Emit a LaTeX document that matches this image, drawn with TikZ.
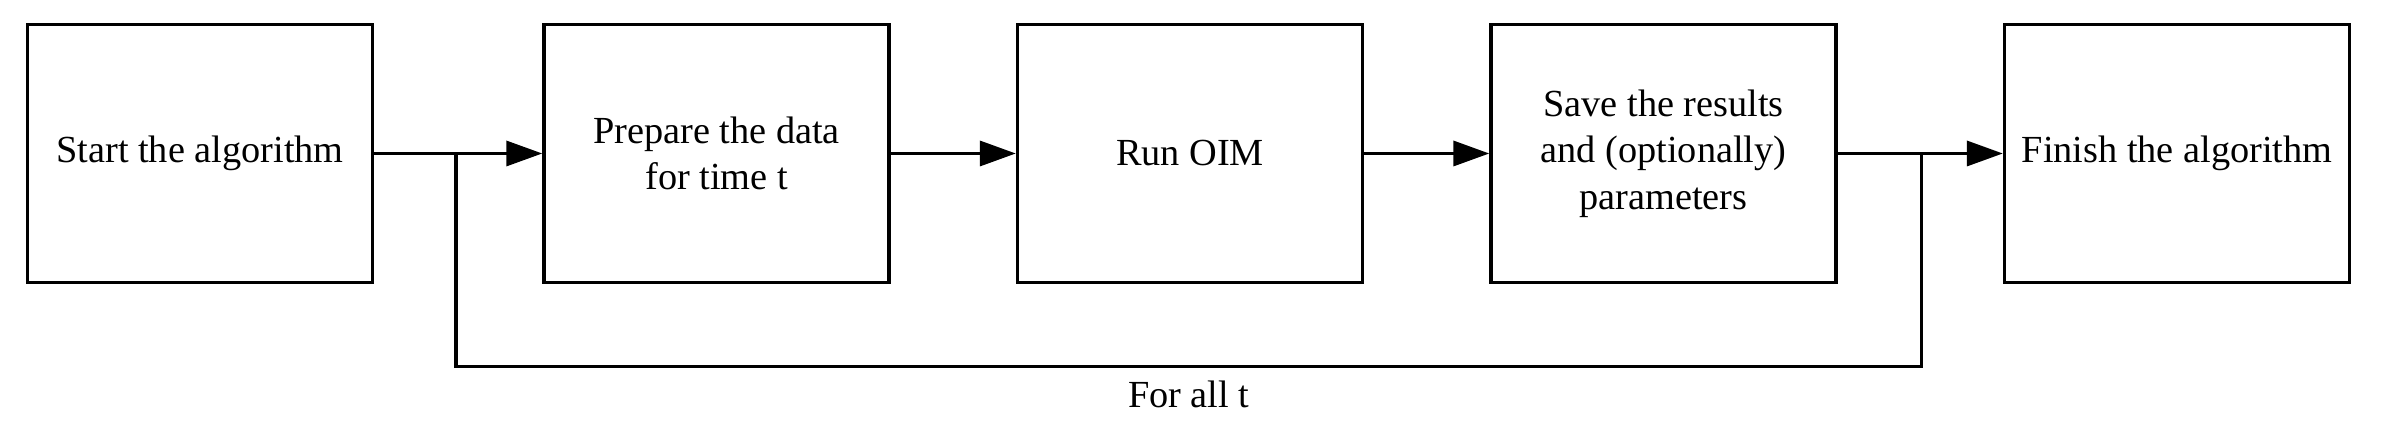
\documentclass[tikz,border=0pt]{standalone}
\usepackage{fontspec}
\setmainfont{Liberation Serif}
\usetikzlibrary{positioning, arrows.meta, calc}

\begin{document}
\begin{tikzpicture}[
    >={Triangle[length=0.36cm, width=0.25cm]}, % Filled triangle tips
    % Styles
    stepbox/.style={ % Step of the procedure
        rectangle,
        draw,
        line width=1pt,
        minimum width=3.45cm,
        minimum height=2.58cm,
        align=center,
        font=\fontsize{10.9}{13.2}\selectfont
    },
    arrow/.style={
        ->,
        line width=1pt
    },
    loop/.style={ % Loop back line
        line width=1pt
    }
]
    \useasboundingbox (0,0) rectangle (23.94,4.48);

    % Steps
    \node[stepbox] (start) at (2.0,2.945) {Start the algorithm};
    \node[stepbox, right=1.68cm of start] (prep) {Prepare the data\\for time t};
    \node[stepbox, right=1.25cm of prep] (oim) {Run OIM};
    \node[stepbox, right=1.25cm of oim] (save) {Save the results\\and (optionally)\\parameters};
    \node[stepbox, right=1.65cm of save] (finish) {Finish the algorithm};

    % Arrows between steps
    \draw[arrow] (start) -- (prep);
    \draw[arrow] (prep) -- (oim);
    \draw[arrow] (oim) -- (save);
    \draw[arrow] (save) -- (finish);

    % Loop over t
    \coordinate (loopL) at ($(start.east)!0.486!(prep.west)$);
    \coordinate (loopR) at ($(save.east)!0.507!(finish.west)$);
    \draw[loop] (loopR) -- ++(0,-2.129) coordinate (loopRB) -| (loopL)
        coordinate[pos=0.25] (loopM);
    \node[below=0.02cm of loopM, font=\fontsize{10.9}{13}\selectfont] (forall) {For all t};
\end{tikzpicture}
\end{document}
